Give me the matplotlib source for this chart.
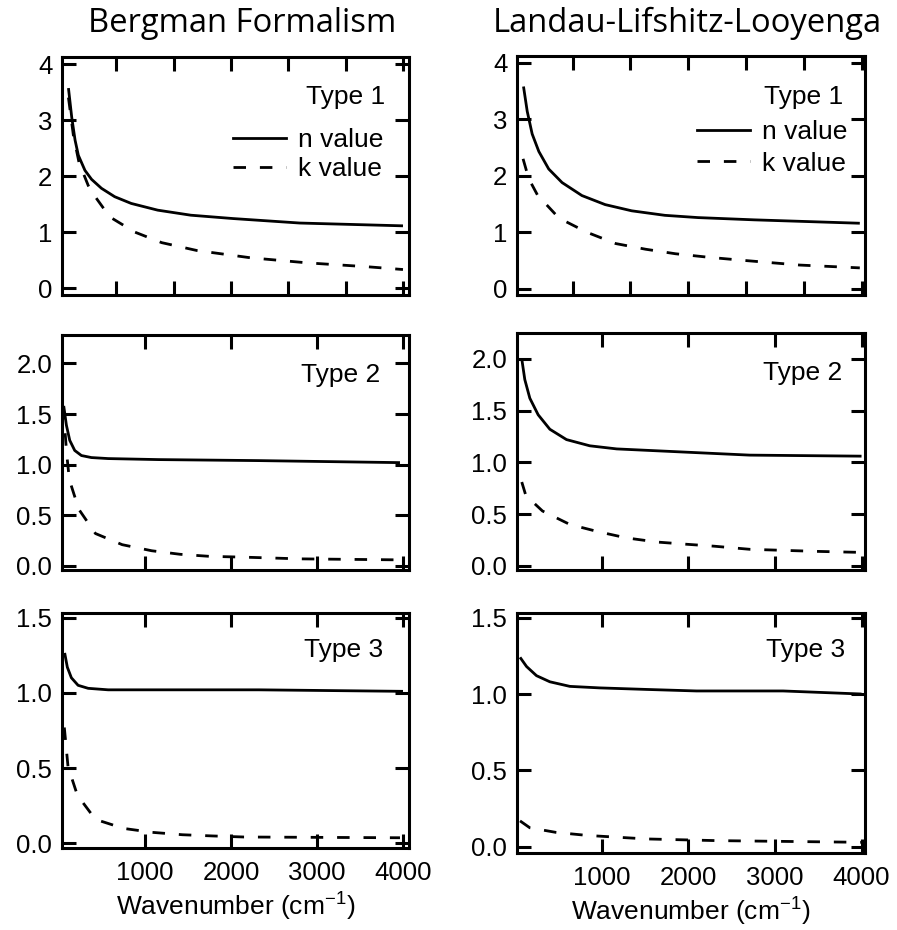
import numpy as np
import matplotlib.pyplot as plt
from matplotlib.lines import Line2D

DPI = 100
FIGSIZE = (8.97, 9.30)

LINEWIDTH_PLOT = 2.0
LINEWIDTH_FRAME = 2.2
DASHES = (4.5, 5)

FONT = "Liberation Sans"
FONT_TITLE = "Open Sans"
FONTSIZE_TICKS = 18.5
FONTSIZE_TEXT = 19
FONTSIZE_TITLE = 23.6

# --- data (wavenumber in cm^-1) ---
# Bergman formalism
b1_n_x = [110, 148, 187, 225, 302, 379, 494, 648, 840, 1148, 1533, 2025, 2800, 4000]
b1_n_y = [3.57, 3.05, 2.64, 2.37, 2.10, 1.94, 1.78, 1.63, 1.51, 1.39, 1.30, 1.24, 1.16, 1.11]
b1_k_x = [110, 167, 233, 340, 379, 590, 879, 1194, 1602, 2225, 2880, 3580, 4000]
b1_k_y = [3.40, 2.73, 2.24, 1.83, 1.72, 1.27, 1.00, 0.81, 0.67, 0.54, 0.45, 0.38, 0.33]

b2_n_x = [55, 86, 125, 183, 261, 377, 572, 1156, 2323, 3965]
b2_n_y = [1.58, 1.39, 1.24, 1.14, 1.09, 1.07, 1.06, 1.05, 1.04, 1.02]
b2_k_x = [50, 89, 121, 230, 424, 735, 1078, 1409, 1747, 2140, 2800, 3965]
b2_k_y = [1.57, 1.11, 0.85, 0.56, 0.32, 0.21, 0.15, 0.115, 0.095, 0.087, 0.07, 0.06]

b3_n_x = [66, 97, 144, 222, 339, 572, 2323, 4000]
b3_n_y = [1.265, 1.17, 1.10, 1.05, 1.03, 1.02, 1.02, 1.01]
b3_k_x = [62, 105, 214, 424, 751, 1082, 1436, 1786, 2150, 3965]
b3_k_y = [0.77, 0.51, 0.32, 0.16, 0.10, 0.074, 0.058, 0.05, 0.043, 0.038]

# Landau-Lifshitz-Looyenga
l1_n_x = [100, 143, 200, 277, 391, 545, 774, 1042, 1348, 1731, 2114, 2764, 3980]
l1_n_y = [3.58, 3.14, 2.74, 2.43, 2.12, 1.88, 1.65, 1.49, 1.38, 1.30, 1.26, 1.22, 1.16]
l1_k_x = [95, 160, 261, 510, 832, 1165, 1509, 1853, 2221, 2583, 3285, 3980]
l1_k_y = [2.30, 1.95, 1.66, 1.25, 1.00, 0.80, 0.70, 0.62, 0.56, 0.51, 0.42, 0.37]

l2_n_x = [80, 115, 173, 269, 404, 596, 865, 1175, 1940, 2710, 4000]
l2_n_y = [2.00, 1.80, 1.62, 1.46, 1.32, 1.22, 1.16, 1.13, 1.10, 1.07, 1.06]
l2_k_x = [80, 127, 319, 635, 962, 1288, 1642, 1960, 2300, 2710, 3480, 4000]
l2_k_y = [0.81, 0.68, 0.53, 0.40, 0.33, 0.27, 0.23, 0.21, 0.19, 0.16, 0.14, 0.13]

l3_n_x = [60, 135, 250, 404, 635, 981, 1519, 2096, 2673, 3095, 4000]
l3_n_y = [1.24, 1.18, 1.12, 1.08, 1.05, 1.04, 1.03, 1.02, 1.02, 1.02, 1.00]
l3_k_x = [60, 173, 473, 835, 1190, 1519, 2325, 4000]
l3_k_y = [0.17, 0.125, 0.095, 0.075, 0.063, 0.052, 0.041, 0.03]

titles = ["Bergman Formalism", "Landau-Lifshitz-Looyenga"]
type_labels = ["Type 1", "Type 2", "Type 3"]
xticks_top = [667, 1333, 2000, 2667, 3333, 4000]
xticks = [1000, 2000, 3000, 4000]
yticks = [[0, 1, 2, 3, 4], [0.0, 0.5, 1.0, 1.5, 2.0], [0.0, 0.5, 1.0, 1.5]]


def style_axes(ax, xlim, ylim, xt, yt, yfmt, show_x):
    ax.set_xlim(*xlim)
    ax.set_ylim(*ylim)
    ax.set_xticks(xt)
    ax.set_yticks(yt)
    ax.set_yticklabels([yfmt.format(v) for v in yt])
    if not show_x:
        ax.set_xticklabels([])
    ax.tick_params(direction="in", top=True, right=True, length=10,
                   width=2.2, labelsize=FONTSIZE_TICKS, pad=7)
    ax.tick_params(axis="x", pad=9)
    for sp in ax.spines.values():
        sp.set_linewidth(LINEWIDTH_FRAME)


def main():
    plt.rcParams["font.family"] = FONT
    fig = plt.figure(figsize=FIGSIZE, dpi=DPI)

    curves = [
        [(b1_n_x, b1_n_y, b1_k_x, b1_k_y), (l1_n_x, l1_n_y, l1_k_x, l1_k_y)],
        [(b2_n_x, b2_n_y, b2_k_x, b2_k_y), (l2_n_x, l2_n_y, l2_k_x, l2_k_y)],
        [(b3_n_x, b3_n_y, b3_k_x, b3_k_y), (l3_n_x, l3_n_y, l3_k_x, l3_k_y)],
    ]
    # axes rectangles in pixels: (x0, x1, ytop, ybottom)
    boxes = [
        [(62, 409, 57, 295), (517, 865, 56, 295)],
        [(62, 409, 335, 570), (517, 865, 333, 570)],
        [(62, 409, 613, 848), (517, 865, 613, 853)],
    ]
    ylims = [
        [(-0.125, 4.125), (-0.11, 4.12)],
        [(-0.04, 2.28), (-0.04, 2.25)],
        [(-0.03, 1.53), (-0.04, 1.53)],
    ]
    xlims = [(35, 4070), (25, 4040)]
    yfmts = ["{:.0f}", "{:.1f}", "{:.1f}"]
    type_pos = [
        [(385, 97), (843, 97)],
        [(380, 375), (842, 373)],
        [(383, 650), (845, 650)],
    ]
    # legend: (right edge px, top px, labelspacing)
    leg_pos = [(383, 128, 0.18), (847, 120, 0.29)]
    W, H = 897, 930

    for r in range(3):
        for c in range(2):
            x0, x1, yt, yb = boxes[r][c]
            ax = fig.add_axes([x0 / W, 1 - yb / H, (x1 - x0) / W, (yb - yt) / H])
            nx, ny, kx, ky = curves[r][c]
            ax.plot(nx, ny, color="black", lw=LINEWIDTH_PLOT,
                    solid_capstyle="butt", solid_joinstyle="round")
            ax.plot(kx, ky, color="black", lw=LINEWIDTH_PLOT,
                    dashes=DASHES, dash_capstyle="butt")
            style_axes(ax, xlims[c], ylims[r][c],
                       xticks_top if r == 0 else xticks, yticks[r],
                       yfmts[r], r == 2)
            tx, ty = type_pos[r][c]
            ax.text((tx - x0) / (x1 - x0), (yb - ty) / (yb - yt),
                    type_labels[r], transform=ax.transAxes, ha="right",
                    va="center", fontsize=FONTSIZE_TEXT)
            if r == 0:
                solid = Line2D([], [], color="black", lw=LINEWIDTH_PLOT)
                dashed = Line2D([], [], color="black", lw=LINEWIDTH_PLOT,
                                dashes=DASHES)
                lpx, lpy, lsp = leg_pos[c]
                ax.legend([solid, dashed], ["n value", "k value"],
                          loc="upper right",
                          bbox_to_anchor=((lpx - x0) / (x1 - x0),
                                          (yb - lpy) / (yb - yt)),
                          frameon=False, fontsize=FONTSIZE_TEXT,
                          handlelength=2.0, handletextpad=0.45,
                          labelspacing=lsp, borderpad=0, borderaxespad=0)
            if r == 2:
                ax.set_xlabel(r"Wavenumber (cm$^{\mathregular{-1}}$)",
                              fontsize=FONTSIZE_TEXT, labelpad=3)

    fig.text(242 / W, 1 - 23 / H, titles[0], family=FONT_TITLE,
             fontsize=FONTSIZE_TITLE, ha="center", va="center")
    fig.text(687 / W, 1 - 23 / H, titles[1], family=FONT_TITLE,
             fontsize=FONTSIZE_TITLE, ha="center", va="center")

    fig.savefig("out.png", dpi=DPI)


if __name__ == "__main__":
    main()
